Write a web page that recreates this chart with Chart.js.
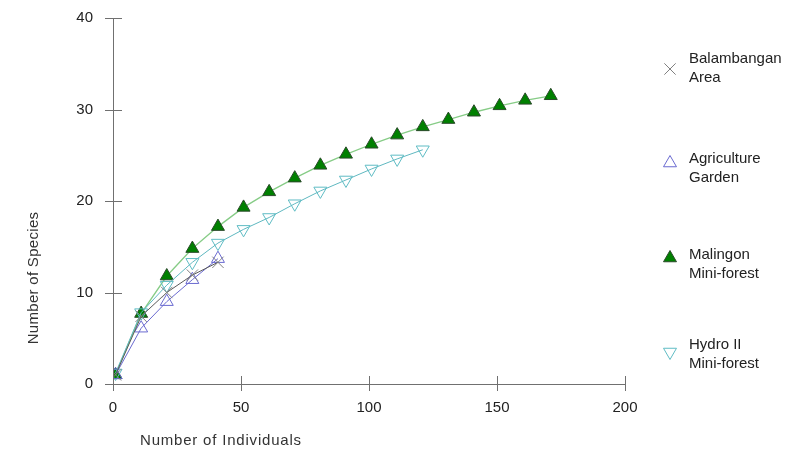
<!DOCTYPE html>
<html>
<head>
<meta charset="utf-8">
<script src="https://cdn.jsdelivr.net/npm/chart.js@4.4.1/dist/chart.umd.min.js"></script>
<style>
html,body{margin:0;padding:0;background:#fff;}
#wrap{position:relative;width:789px;height:459px;}
</style>
</head>
<body>
<div id="wrap"><canvas id="c" width="789" height="459"></canvas></div>
<script>
const xTicks = [0, 50, 100, 150, 200];
const yTicks = [0, 10, 20, 30, 40];
const seriesNames = [["Balambangan", "Area"], ["Agriculture", "Garden"], ["Malingon", "Mini-forest"], ["Hydro II", "Mini-forest"]];
const xBalambangan = [1, 11, 21, 31, 41];
const yBalambangan = [1, 7.4, 10.0, 11.9, 13.3];
const xAgriculture = [1, 11, 21, 31, 41];
const yAgriculture = [1, 6.1, 9.0, 11.4, 13.7];
const xMalingon = [1, 11, 21, 31, 41, 51, 61, 71, 81, 91, 101, 111, 121, 131, 141, 151, 161, 171];
const yMalingon = [1, 7.7, 11.8, 14.8, 17.2, 19.3, 21.0, 22.5, 23.9, 25.1, 26.2, 27.2, 28.1, 28.9, 29.7, 30.4, 31.0, 31.5];
const xHydro = [1, 11, 21, 31, 41, 51, 61, 71, 81, 91, 101, 111, 121];
const yHydro = [1.2, 7.8, 10.8, 13.3, 15.4, 16.9, 18.2, 19.7, 21.1, 22.3, 23.5, 24.6, 25.6];
const xTitle = "Number of Individuals";
const yTitle = "Number of Species";

const pts = (xs, ys) => xs.map((x, i) => ({x: x, y: ys[i]}));
const FONT = '"Liberation Sans", Arial, sans-serif';

const datasets = [
  {label: seriesNames[0].join(' '), data: pts(xBalambangan, yBalambangan), borderColor: '#5a5a5a', borderWidth: 1,
   pointStyle: 'crossRot', pointRadius: 8, pointBorderColor: '#808080', pointBorderWidth: 1, pointBackgroundColor: 'rgba(0,0,0,0)', order: 1},
  {label: seriesNames[1].join(' '), data: pts(xAgriculture, yAgriculture), borderColor: '#6a6ad0', borderWidth: 1,
   pointStyle: 'triangle', pointRadius: 7.5, pointBorderColor: '#6a6ad0', pointBorderWidth: 1, pointBackgroundColor: 'rgba(255,255,255,0)', order: 2},
  {label: seriesNames[2].join(' '), data: pts(xMalingon, yMalingon), borderColor: '#86cc86', borderWidth: 1.3,
   pointStyle: 'triangle', pointRadius: 7.5, pointBorderColor: '#2a4a2a', pointBorderWidth: 1, pointBackgroundColor: '#008000', order: 4},
  {label: seriesNames[3].join(' '), data: pts(xHydro, yHydro), borderColor: '#5fb8c0', borderWidth: 1,
   pointStyle: 'triangle', pointRotation: 180, pointRadius: 7.5, pointBorderColor: '#5fbcc4', pointBorderWidth: 1, pointBackgroundColor: 'rgba(255,255,255,0)', order: 3}
];

const legendMarkerY = [69, 163, 258, 352];
const legendTextY = [59, 159, 255, 345];

const axisPlugin = {
  id: 'axisPlugin',
  afterDraw(chart) {
    const ctx = chart.ctx;
    const xs = chart.scales.x, ys = chart.scales.y;
    const x0 = xs.getPixelForValue(0), x1 = xs.getPixelForValue(200);
    const y0 = ys.getPixelForValue(0), y1 = ys.getPixelForValue(40);
    ctx.save();
    ctx.strokeStyle = '#707070';
    ctx.lineWidth = 1;
    ctx.beginPath();
    ctx.moveTo(Math.round(x0) + 0.5, y1);
    ctx.lineTo(Math.round(x0) + 0.5, y0);
    ctx.moveTo(x0, Math.round(y0) + 0.5);
    ctx.lineTo(x1, Math.round(y0) + 0.5);
    yTicks.forEach(v => {
      const p = Math.round(ys.getPixelForValue(v)) + 0.5;
      ctx.moveTo(x0 - 8, p); ctx.lineTo(x0 + 9, p);
    });
    xTicks.forEach(v => {
      const p = Math.round(xs.getPixelForValue(v)) + 0.5;
      ctx.moveTo(p, y0 - 8); ctx.lineTo(p, y0 + 7);
    });
    ctx.stroke();
    // axis titles
    ctx.fillStyle = '#333333';
    ctx.font = '15px ' + FONT;
    ctx.textAlign = 'left';
    ctx.textBaseline = 'middle';
    ctx.letterSpacing = '0.8px';
    ctx.fillText(xTitle, 140, 441);
    ctx.letterSpacing = '0.3px';
    ctx.translate(34, 278);
    ctx.rotate(-Math.PI / 2);
    ctx.textAlign = 'center';
    ctx.fillText(yTitle, 0, 0);
    ctx.restore();

    // legend
    ctx.save();
    ctx.font = '15px ' + FONT;
    ctx.textBaseline = 'middle';
    ctx.textAlign = 'left';
    chart.data.datasets.forEach((ds, i) => {
      const opts = {pointStyle: ds.pointStyle, radius: ds.pointRadius, rotation: ds.pointRotation || 0, borderWidth: 1};
      ctx.strokeStyle = ds.pointBorderColor;
      ctx.fillStyle = ds.pointBackgroundColor;
      ctx.lineWidth = 1;
      Chart.helpers.drawPoint(ctx, opts, 670, legendMarkerY[i]);
      ctx.fillStyle = '#222222';
      ctx.fillText(seriesNames[i][0], 689, legendTextY[i]);
      ctx.fillText(seriesNames[i][1], 689, legendTextY[i] + 18.5);
    });
    ctx.restore();
  }
};

new Chart(document.getElementById('c'), {
  type: 'line',
  data: {datasets: datasets},
  options: {
    responsive: false,
    animation: false,
    layout: {padding: {top: 18, right: 164, left: 0, bottom: 0}},
    plugins: {legend: {display: false}, tooltip: {enabled: false}},
    elements: {line: {tension: 0, fill: false}},
    scales: {
      x: {
        type: 'linear', min: 0, max: 200,
        afterBuildTicks: s => { s.ticks = xTicks.map(v => ({value: v})); },
        grid: {display: false}, border: {display: false},
        ticks: {padding: 7, color: '#222', font: {family: FONT, size: 15}},
        afterFit: s => { s.height = 75; s.paddingLeft = 0; s.paddingRight = 0; }
      },
      y: {
        type: 'linear', min: 0, max: 40,
        afterBuildTicks: s => { s.ticks = yTicks.map(v => ({value: v})); },
        grid: {display: false}, border: {display: false},
        ticks: {padding: 12, color: '#222', font: {family: FONT, size: 15}},
        afterFit: s => { s.width = 113; s.paddingTop = 0; s.paddingBottom = 0; }
      }
    }
  },
  plugins: [axisPlugin]
});
</script>
</body>
</html>
